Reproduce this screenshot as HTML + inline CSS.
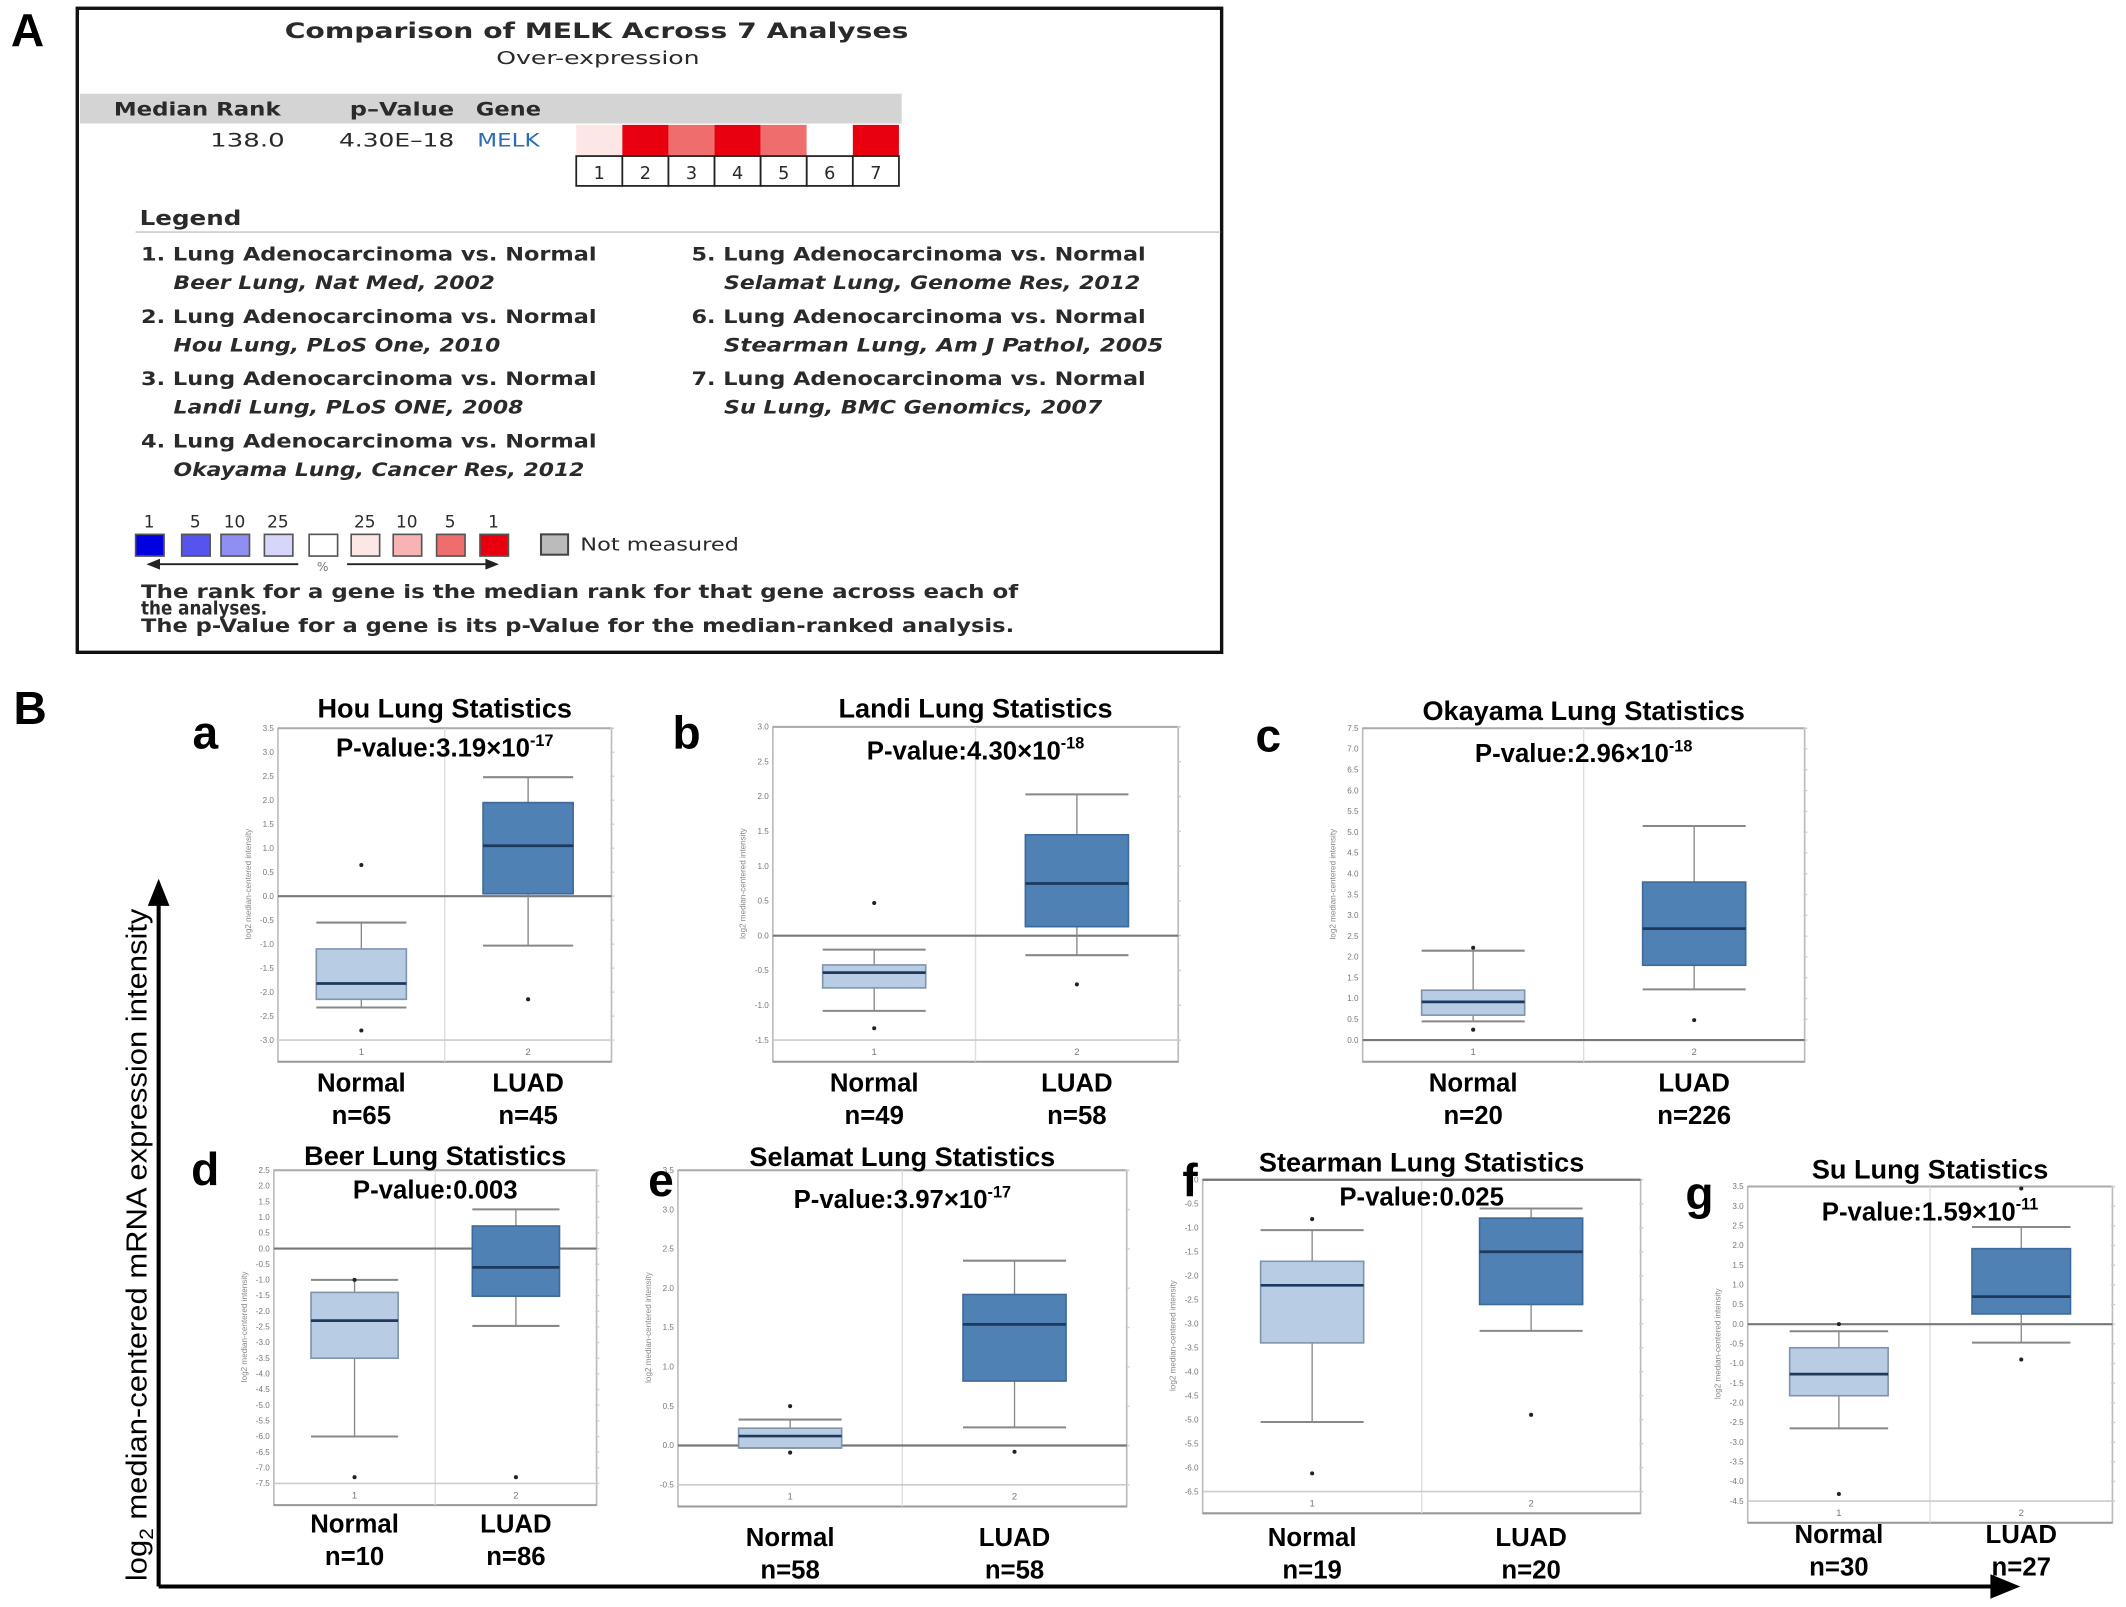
<!DOCTYPE html>
<html><head><meta charset="utf-8"><style>
html,body{margin:0;padding:0;background:#fff;}
svg{display:block;}
.va{font-family:"DejaVu Sans","Liberation Sans",sans-serif;fill:#2a2a2a;font-weight:bold;}
.ar{font-family:"Liberation Sans",Arial,sans-serif;}
</style></head><body>
<svg id="fig" width="2126" height="1607" viewBox="0 0 1568 1185" xmlns="http://www.w3.org/2000/svg">
<g id="panelA">
<text x="8" y="34" class="ar" font-size="34" font-weight="bold">A</text>
<rect x="57" y="6" width="844" height="475" fill="none" stroke="#111" stroke-width="2.5"/>
<text x="210" y="28" textLength="460" lengthAdjust="spacingAndGlyphs" class="va" font-size="16">Comparison of MELK Across 7 Analyses</text>
<text x="366" y="47" textLength="150" lengthAdjust="spacingAndGlyphs" class="va" font-size="13" style="font-weight:normal">Over-expression</text>
<rect x="59" y="69" width="606" height="22" fill="#d4d4d4"/>
<text x="84" y="85" textLength="123" lengthAdjust="spacingAndGlyphs" class="va" font-size="13.5">Median Rank</text>
<text x="258" y="85" textLength="77" lengthAdjust="spacingAndGlyphs" class="va" font-size="13.5">p–Value</text>
<text x="351" y="85" textLength="48" lengthAdjust="spacingAndGlyphs" class="va" font-size="13.5">Gene</text>
<text x="155" y="108" textLength="55" lengthAdjust="spacingAndGlyphs" class="va" font-size="13.5" style="font-weight:normal">138.0</text>
<text x="250" y="108" textLength="85" lengthAdjust="spacingAndGlyphs" class="va" font-size="13.5" style="font-weight:normal">4.30E–18</text>
<text x="352" y="108" textLength="46" lengthAdjust="spacingAndGlyphs" class="va" font-size="13.5" style="fill:#2a6db5;font-weight:normal">MELK</text>
<g id="heat"></g>
<text x="103" y="166" textLength="75" lengthAdjust="spacingAndGlyphs" class="va" font-size="15">Legend</text>
<line x1="100" y1="171" x2="900" y2="171" stroke="#ccc" stroke-width="1.2"/>
<g class="va" font-size="13.5">
<text x="104" y="192" textLength="336" lengthAdjust="spacingAndGlyphs">1. Lung Adenocarcinoma vs. Normal</text>
<text x="128" y="213" textLength="237" lengthAdjust="spacingAndGlyphs" font-style="italic">Beer Lung, Nat Med, 2002</text>
<text x="104" y="238" textLength="336" lengthAdjust="spacingAndGlyphs">2. Lung Adenocarcinoma vs. Normal</text>
<text x="128" y="259" textLength="241" lengthAdjust="spacingAndGlyphs" font-style="italic">Hou Lung, PLoS One, 2010</text>
<text x="104" y="284" textLength="336" lengthAdjust="spacingAndGlyphs">3. Lung Adenocarcinoma vs. Normal</text>
<text x="128" y="305" textLength="258" lengthAdjust="spacingAndGlyphs" font-style="italic">Landi Lung, PLoS ONE, 2008</text>
<text x="104" y="330" textLength="336" lengthAdjust="spacingAndGlyphs">4. Lung Adenocarcinoma vs. Normal</text>
<text x="128" y="351" textLength="303" lengthAdjust="spacingAndGlyphs" font-style="italic">Okayama Lung, Cancer Res, 2012</text>
<text x="510" y="192" textLength="335" lengthAdjust="spacingAndGlyphs">5. Lung Adenocarcinoma vs. Normal</text>
<text x="534" y="213" textLength="307" lengthAdjust="spacingAndGlyphs" font-style="italic">Selamat Lung, Genome Res, 2012</text>
<text x="510" y="238" textLength="335" lengthAdjust="spacingAndGlyphs">6. Lung Adenocarcinoma vs. Normal</text>
<text x="534" y="259" textLength="324" lengthAdjust="spacingAndGlyphs" font-style="italic">Stearman Lung, Am J Pathol, 2005</text>
<text x="510" y="284" textLength="335" lengthAdjust="spacingAndGlyphs">7. Lung Adenocarcinoma vs. Normal</text>
<text x="534" y="305" textLength="279" lengthAdjust="spacingAndGlyphs" font-style="italic">Su Lung, BMC Genomics, 2007</text>
</g>
<g id="scale"></g>
<rect x="399" y="394" width="20" height="15" fill="#bbb" stroke="#444" stroke-width="1.5"/>
<text x="428" y="406" textLength="117" lengthAdjust="spacingAndGlyphs" class="va" font-size="13" style="font-weight:normal">Not measured</text>
<line x1="112" y1="416" x2="220" y2="416" stroke="#222" stroke-width="1.3"/>
<polygon points="108,416 118,412 118,420" fill="#222"/>
<line x1="256" y1="416" x2="364" y2="416" stroke="#222" stroke-width="1.3"/>
<polygon points="368,416 358,412 358,420" fill="#222"/>
<text x="238" y="421" text-anchor="middle" class="va" font-size="9" style="fill:#777;font-weight:normal">%</text>
<g class="va" font-size="13.5">
<text x="104" y="441" textLength="647" lengthAdjust="spacingAndGlyphs">The rank for a gene is the median rank for that gene across each of</text>
<text x="104" y="453" textLength="93" lengthAdjust="spacingAndGlyphs">the analyses.</text>
<text x="104" y="466" textLength="644" lengthAdjust="spacingAndGlyphs">The p-Value for a gene is its p-Value for the median-ranked analysis.</text>
</g>
</g>
<g id="panelB">
<text x="10" y="534" class="ar" font-size="34" font-weight="bold">B</text>
<line x1="117" y1="1170" x2="117" y2="664" stroke="#000" stroke-width="3"/>
<polygon points="117,648 109,668 125,668" fill="#000"/>
<line x1="117" y1="1170" x2="1472" y2="1170" stroke="#000" stroke-width="3"/>
<polygon points="1490,1170 1468,1161 1468,1179" fill="#000"/>
<text transform="translate(108,1166) rotate(-90)" textLength="496" lengthAdjust="spacingAndGlyphs" class="ar" font-size="21">log<tspan font-size="14" dy="5">2</tspan><tspan dy="-5"> median-centered mRNA expression intensity</tspan></text>
<g id="plots"></g>
</g>
</svg>
<script>
const NS='http://www.w3.org/2000/svg';
function mk(tag,attrs,parent,txt){const e=document.createElementNS(NS,tag);for(const k in attrs)e.setAttribute(k,attrs[k]);if(txt!==undefined)e.textContent=txt;parent.appendChild(e);return e;}

// ---- Panel A data ----
const heatRanks=[25,1,5,1,5,0,1];
const scaleLabels=['1','5','10','25','','25','10','5','1'];
const rankColor={0:'#ffffff',25:'#fde6e6',10:'#f8b4b4',5:'#f06d6d',1:'#e8000f'};
const scaleColors=['#0000e0','#5555ee','#8f8ff2','#d6d6fa','#ffffff','#fde6e6','#f8b4b4','#f06d6d','#e8000f'];

const heat=document.getElementById('heat');
heatRanks.forEach((r,i)=>{
  const x=425+i*34;
  const c=mk('rect',{x:x,y:92,width:34,height:23,fill:rankColor[r]},heat);
  
  
  const b=mk('rect',{x:x,y:115,width:34,height:22,fill:'#fff',stroke:'#222','stroke-width':1.3},heat);
  
  
  const t=mk('text',{x:x+17,y:132,'text-anchor':'middle','class':'va','font-size':13,style:'font-weight:normal'},heat,String(i+1));
  
  
});
const scale=document.getElementById('scale');
const scaleX=[100,134,163,195,228,259,290,322,354];
scaleColors.forEach((c,i)=>{
  const r=mk('rect',{x:scaleX[i],y:394,width:21,height:16,fill:c,stroke:'#555','stroke-width':1.2},scale);
  
  
  const t=mk('text',{x:scaleX[i]+10,y:389,'text-anchor':'middle','class':'va','font-size':12.5,style:'font-weight:normal'},scale,scaleLabels[i]);
  
  
});

// ---- Panel B data ----
const panelLetters=['a','b','c','d','e','f','g'];
const panelTitles=['Hou Lung Statistics','Landi Lung Statistics','Okayama Lung Statistics','Beer Lung Statistics','Selamat Lung Statistics','Stearman Lung Statistics','Su Lung Statistics'];
const pValueLabels=['3.19×10','4.30×10','2.96×10','0.003','3.97×10','0.025','1.59×10'];
const pValueExps=['-17','-18','-18','','-17','',"-11"];
const nNormal=[65,49,20,10,58,19,30];
const nLuad=[45,58,226,86,58,20,27];
const tickMax=[3.5,3.0,7.5,2.5,3.5,0.0,3.5];
const tickMin=[-3.0,-1.5,0.0,-7.5,-0.5,-6.5,-4.5];
const tickStep=[0.5,0.5,0.5,0.5,0.5,0.5,0.5];
// box stats: [whiskerHigh, q3, median, q1, whiskerLow]
const normalBox=[[-0.55,-1.1,-1.82,-2.15,-2.32],[-0.2,-0.42,-0.53,-0.75,-1.08],[2.15,1.2,0.92,0.6,0.45],[-1.0,-1.4,-2.3,-3.5,-6.0],[0.33,0.22,0.12,-0.03,-0.03],[-1.05,-1.7,-2.2,-3.4,-5.05],[-0.18,-0.6,-1.27,-1.82,-2.65]];
const luadBox=[[2.48,1.95,1.05,0.05,-1.03],[2.03,1.45,0.75,0.13,-0.28],[5.15,3.8,2.68,1.8,1.22],[1.25,0.72,-0.6,-1.52,-2.47],[2.35,1.92,1.54,0.82,0.23],[-0.6,-0.8,-1.5,-2.6,-3.15],[2.47,1.92,0.7,0.26,-0.47]];
const normalOutliers=[[0.65,-2.8],[0.47,-1.33],[2.22,0.25],[-1.0,-7.3],[0.5,-0.09],[-0.82,-6.12],[0.0,-4.32]];
const luadOutliers=[[-2.15],[-0.7],[0.48],[-7.3],[-0.08],[-4.9],[3.45,-0.9]];

// ---- layout (pixels, not data) ----
const L={
 x0:[205,570,1005,202,500,887,1289], x1:[451,869,1331,440,831,1210,1558],
 yTop:[537,536,537,863,863,870,875], yBot:[767,767,767,1094,1095,1100,1107],
 letterX:[142,496,926,141,478,872,1243], letterY:[552,552,554,874,882,882,892],
 titleY:[529,529,531,859,860,864,869], pY:[558,560,562,884,891,889,900],
 labY:[805,805,805,1130,1140,1140,1138]
};
const plots=document.getElementById('plots');
panelLetters.forEach((lt,i)=>{
  const g=mk('g',{},plots);
  
  
  const x0=L.x0[i],x1=L.x1[i],yT=L.yTop[i],yB=L.yBot[i];
  const ys=v=>yT+(tickMax[i]-v)/(tickMax[i]-tickMin[i])*(yB-yT);
  const fb=yB+16, xm=(x0+x1)/2;
  const fr=mk('rect',{x:x0,y:yT,width:x1-x0,height:fb-yT,fill:'#fff',stroke:'#bbb','stroke-width':1.2},g);
  
  
  mk('line',{x1:x0,y1:fb,x2:x1,y2:fb,stroke:'#999','stroke-width':1.5},g);
  mk('line',{x1:x0,y1:yT,x2:x1,y2:yT,stroke:'#aaa','stroke-width':1.5},g);
  const dv=mk('line',{x1:xm,y1:yT,x2:xm,y2:fb,stroke:'#ddd','stroke-width':1},g);
  
  
  mk('line',{x1:x0,y1:yB,x2:x1,y2:yB,stroke:'#ccc','stroke-width':1.2},g);
  const n=Math.round((tickMax[i]-tickMin[i])/tickStep[i]);
  for(let k=0;k<=n;k++){
    const v=tickMax[i]-k*tickStep[i];
    const t=mk('text',{x:x0-3,y:ys(v)+2,'text-anchor':'end','class':'ar','font-size':6,fill:'#777'},g,v.toFixed(1));
    
    
    mk('line',{x1:x1-1,y1:ys(v),x2:x1+2,y2:ys(v),stroke:'#ccc'},g);
  }
  const at=mk('text',{transform:`translate(${x0-20},${(yT+yB)/2}) rotate(-90)`,'text-anchor':'middle','class':'ar','font-size':6,fill:'#888'},g,'log2 median-centered intensity');
  
  
  const z=mk('line',{x1:x0,y1:ys(0),x2:x1,y2:ys(0),stroke:'#777','stroke-width':1.6},g);
  
  
  const cx=[x0+(xm-x0)/2, xm+(x1-xm)/2];
  const bw=Math.min(76,(x1-x0)*0.27);
  const boxes=[normalBox[i],luadBox[i]], outs=[normalOutliers[i],luadOutliers[i]];
  const fills=['#b8cce4','#4f81b5'], strokes=['#8094ae','#3d6a99'], names=['normal','luad'];
  boxes.forEach((b,j)=>{
    const c=cx[j];
    mk('line',{x1:c,y1:ys(b[0]),x2:c,y2:ys(b[1]),stroke:'#888','stroke-width':1},g);
    mk('line',{x1:c,y1:ys(b[3]),x2:c,y2:ys(b[4]),stroke:'#888','stroke-width':1},g);
    const wh=mk('line',{x1:c-bw/2,y1:ys(b[0]),x2:c+bw/2,y2:ys(b[0]),stroke:'#888','stroke-width':1.5},g);
    
    
    const wl=mk('line',{x1:c-bw/2,y1:ys(b[4]),x2:c+bw/2,y2:ys(b[4]),stroke:'#888','stroke-width':1.5},g);
    
    
    const r=mk('rect',{x:c-bw/2,y:ys(b[1]),width:bw,height:Math.max(1,ys(b[3])-ys(b[1])),fill:fills[j],stroke:strokes[j],'stroke-width':1.2},g);
    
    
    const md=mk('line',{x1:c-bw/2,y1:ys(b[2]),x2:c+bw/2,y2:ys(b[2]),stroke:'#1d3a5c','stroke-width':2},g);
    
    
    outs[j].forEach(o=>{
      const p=mk('circle',{cx:c,cy:ys(o),r:1.5,fill:'#222'},g);
      
      
    });
    const gl=mk('text',{x:c,y:fb-5,'text-anchor':'middle','class':'ar','font-size':7,fill:'#777'},g,String(j+1));
    
    
  });
  const tt=mk('text',{x:xm,y:L.titleY[i],'text-anchor':'middle','class':'ar','font-size':20,'font-weight':'bold'},g,panelTitles[i]);
  
  
  const pv=mk('text',{x:xm,y:L.pY[i],'text-anchor':'middle','class':'ar','font-size':19,'font-weight':'bold'},g);
  
  
  pv.textContent='P-value:'+pValueLabels[i];
  if(pValueExps[i]){mk('tspan',{dy:-8,'font-size':12},pv,pValueExps[i]);}
  const le=mk('text',{x:L.letterX[i],y:L.letterY[i],'class':'ar','font-size':34,'font-weight':'bold'},g,lt);
  
  
  const labs=[['Normal','n='+nNormal[i]],['LUAD','n='+nLuad[i]]];
  labs.forEach((lb,j)=>{
    const a=mk('text',{x:cx[j],y:L.labY[i],'text-anchor':'middle','class':'ar','font-size':19,'font-weight':'bold'},g,lb[0]);
    
    
    const b=mk('text',{x:cx[j],y:L.labY[i]+24,'text-anchor':'middle','class':'ar','font-size':19,'font-weight':'bold'},g,lb[1]);
    
    
  });
});
</script>
</body></html>
